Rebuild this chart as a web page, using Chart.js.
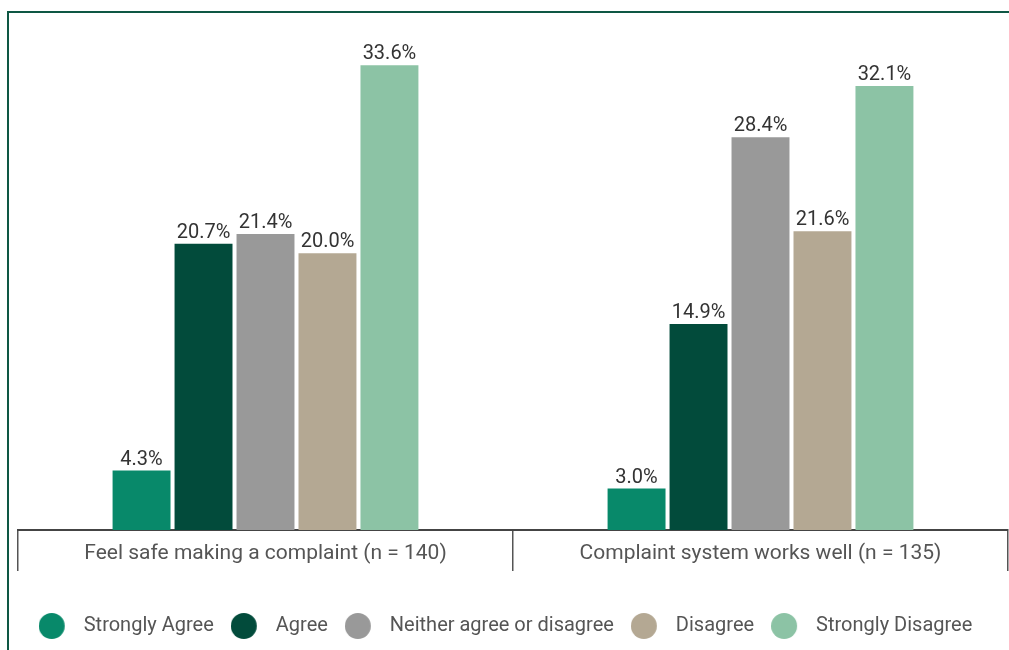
<!DOCTYPE html>
<html>
<head>
<meta charset="utf-8">
<script src="https://cdn.jsdelivr.net/npm/chart.js@4"></script>
<style>
  html, body { margin: 0; padding: 0; background: #fff; }
  #wrap { position: relative; width: 1009px; height: 650px; overflow: hidden; }
  #frame {
    position: absolute; left: 7px; top: 11px; right: -10px; bottom: -10px;
    border-left: 2px solid #0e5744; border-top: 2px solid #0e5744;
  }
  canvas { position: absolute; left: 0; top: 0; }
</style>
</head>
<body>
<div id="wrap">
  <div id="frame"></div>
  <canvas id="surveyChart" width="1009" height="650"></canvas>
</div>
<script>
const questions = ['Feel safe making a complaint (n = 140)', 'Complaint system works well (n = 135)'];
const answers = ['Strongly Agree', 'Agree', 'Neither agree or disagree', 'Disagree', 'Strongly Disagree'];
const stronglyAgree = [4.3, 3.0];
const agree = [20.7, 14.9];
const neither = [21.4, 28.4];
const disagree = [20.0, 21.6];
const stronglyDisagree = [33.6, 32.1];
const palette = ['#08896a', '#024b3b', '#999999', '#b4a893', '#8cc3a5'];

const FONT = 'Roboto';

// round legend dots, drawn left of the item so the text sits further from them
function makeDot(color) {
    const c = document.createElement('canvas');
    c.width = 50; c.height = 26;
    const g = c.getContext('2d');
    g.fillStyle = color;
    g.beginPath();
    g.arc(13, 13, 13, 0, Math.PI * 2);
    g.fill();
    return c;
}
const dots = palette.map(makeDot);

// percentage above each bar
const barLabels = {
    id: 'barLabels',
    afterDatasetsDraw(chart) {
        const ctx = chart.ctx;
        ctx.save();
        ctx.font = `20px ${FONT}`;
        ctx.fillStyle = '#333';
        ctx.textAlign = 'center';
        ctx.textBaseline = 'alphabetic';
        chart.data.datasets.forEach((ds, i) => {
            chart.getDatasetMeta(i).data.forEach((bar, j) => {
                ctx.fillText(ds.data[j].toFixed(1) + '%', bar.x, bar.y - 6);
            });
        });
        ctx.restore();
    }
};

const series = [stronglyAgree, agree, neither, disagree, stronglyDisagree];

new Chart(document.getElementById('surveyChart'), {
    type: 'bar',
    data: {
        labels: questions,
        datasets: answers.map((name, i) => ({
            label: name,
            data: series[i],
            backgroundColor: palette[i],
            categoryPercentage: 0.626,
            barPercentage: 0.935
        }))
    },
    options: {
        responsive: false,
        animation: false,
        layout: { padding: { left: 18, right: 1, top: 32, bottom: 4 } },
        plugins: {
            tooltip: { enabled: false },
            legend: {
                position: 'bottom',
                labels: {
                    usePointStyle: true,
                    padding: 32,
                    color: '#555',
                    font: { family: FONT, size: 20 },
                    generateLabels: chart => Chart.defaults.plugins.legend.labels.generateLabels(chart)
                        .map((item, i) => Object.assign(item, { pointStyle: dots[i] }))
                }
            }
        },
        scales: {
            y: { display: false, min: 0, max: 36 },
            x: {
                afterFit: scale => { scale.height = 54; },
                grid: {
                    offset: true,
                    drawOnChartArea: false,
                    tickLength: 41,
                    color: '#555',
                    lineWidth: 1.5
                },
                border: { color: '#444', width: 2 },
                ticks: {
                    color: '#555',
                    padding: -30,
                    font: { family: FONT, size: 21 }
                }
            }
        }
    },
    plugins: [barLabels]
});
</script>
</body>
</html>
